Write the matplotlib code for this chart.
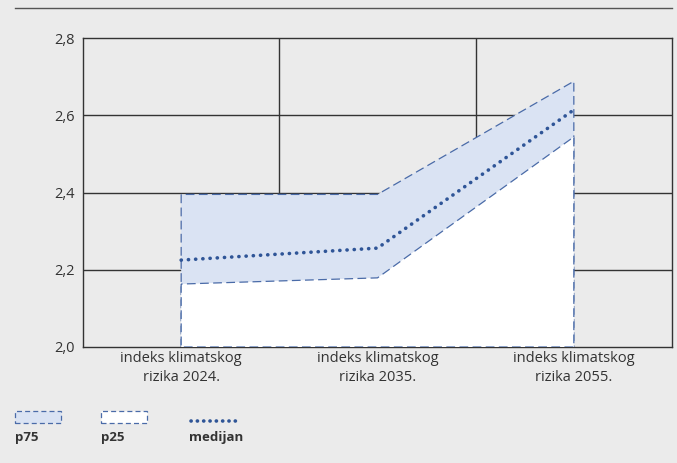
import matplotlib
matplotlib.use("Agg")
import matplotlib.pyplot as plt
from matplotlib.patches import Rectangle
from matplotlib.lines import Line2D

categories = ["indeks klimatskog\nrizika 2024.", "indeks klimatskog\nrizika 2035.", "indeks klimatskog\nrizika 2055."]
p75 = [2.395, 2.395, 2.688]
p25 = [2.163, 2.179, 2.544]
medijan = [2.225, 2.256, 2.614]
yticks = [2.0, 2.2, 2.4, 2.6, 2.8]
ytick_labels = ["2,0", "2,2", "2,4", "2,6", "2,8"]
legend_labels = ["p75", "p25", "medijan"]

BG = "#ebebeb"
FILL = "#dae3f3"
EDGE = "#4a6ba8"
MED = "#2f5597"
TXT = "#333333"
AX = "#333333"

plt.rcParams['font.family'] = ['Open Sans', 'DejaVu Sans']

fig = plt.figure(figsize=(6.77, 4.63), dpi=100, facecolor=BG)
ax = fig.add_axes([83/677, 1-347/463, (672-83)/677, (347-38)/463])
ax.set_facecolor(BG)

x = [i + 0.5 for i in range(len(categories))]
ax.set_xlim(0, 3)
ax.set_ylim(2.0, 2.8)

# grid
for gy in yticks[1:-1]:
    ax.axhline(gy, color=AX, lw=1.0, zorder=0)
for gx in [1, 2]:
    ax.axvline(gx, color=AX, lw=1.0, zorder=0)

ax.fill_between(x, 2.0, p75, facecolor=FILL, edgecolor=EDGE, linestyle=(0, (7, 3.5)), lw=0.9, zorder=2)
ax.fill_between(x, 2.0, p25, facecolor="white", edgecolor=EDGE, linestyle=(0, (7, 3.5)), lw=0.9, zorder=3)
ax.plot(x, medijan, color=MED, lw=2.6, linestyle=(0, (0.05, 1.95)), dash_capstyle='round', zorder=4)

ax.set_xticks(x)
ax.set_xticklabels(categories, fontsize=10.5, color=TXT, linespacing=1.35)
ax.set_yticks(yticks)
ax.set_yticklabels(ytick_labels, fontsize=10.5, color=TXT)
ax.tick_params(axis='both', length=0, pad=3)
ax.tick_params(axis='y', pad=6)
for s in ax.spines.values():
    s.set_color(AX)
    s.set_linewidth(1.0)

# top rule
fig.add_artist(Line2D([15/677, 672/677], [1-8/463, 1-8/463], color="#555555", lw=1.0))

# legend
def fy(py):
    return 1 - py/463
fig.add_artist(Rectangle((15/677, fy(423)), 46/677, 12/463, facecolor=FILL, edgecolor=EDGE,
                         linestyle=(0, (4, 2.5)), lw=0.9))
fig.add_artist(Rectangle((101/677, fy(423)), 46/677, 12/463, facecolor="white", edgecolor=EDGE,
                         linestyle=(0, (4, 2.5)), lw=0.9))
fig.add_artist(Line2D([191/677, 236/677], [fy(421), fy(421)], color=MED, lw=2.6,
                      linestyle=(0, (0.05, 1.7)), dash_capstyle='round'))
for lx, lab in zip([15, 101, 189], legend_labels):
    fig.text(lx/677, fy(438), lab, fontsize=9.5, fontweight='bold', color=TXT, va='center', ha='left')

fig.savefig("out.png", dpi=100, facecolor=BG)
